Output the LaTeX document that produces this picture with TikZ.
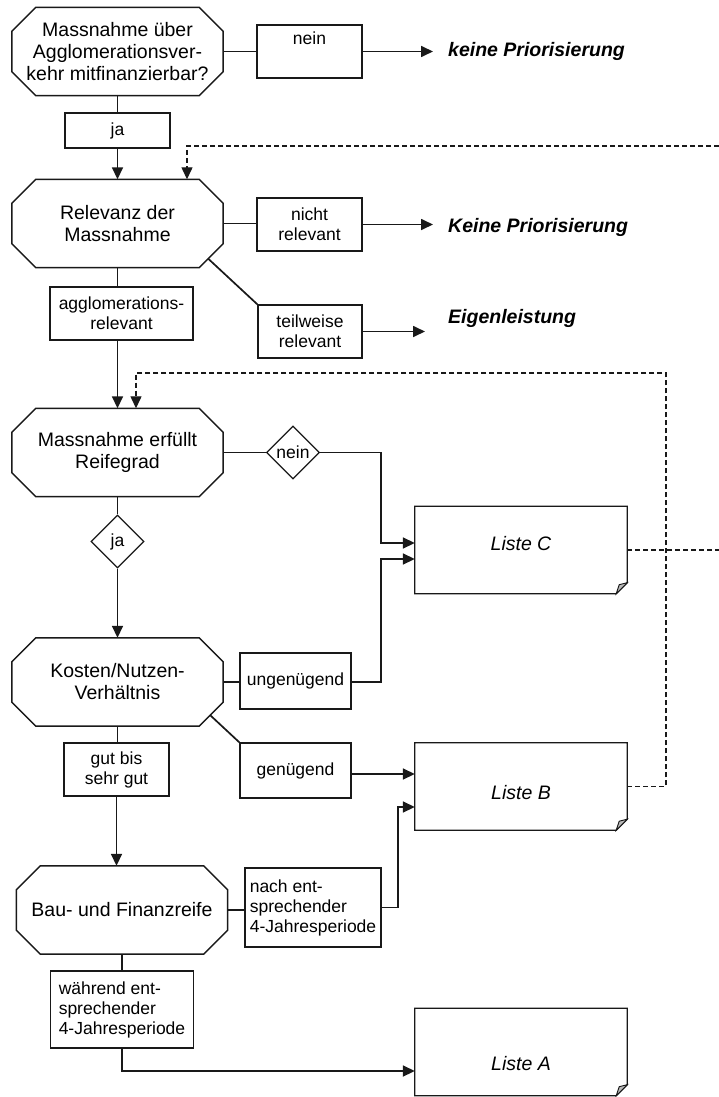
\documentclass[tikz,border=0pt]{standalone}
\usepackage{fontspec}
\setmainfont{Liberation Sans}
\usetikzlibrary{arrows.meta,calc,shapes.geometric}
\newcommand\octfont{\fontsize{19.5}{22}\selectfont}
\newcommand\lblfont{\fontsize{17.5}{20}\selectfont}
\newcommand\outfont{\fontsize{19.5}{22}\selectfont\bfseries\itshape}
\newcommand\docfont{\fontsize{19.5}{22}\selectfont\itshape}
\newcommand\octa[1]{%
  \draw[octline] ([xshift=24pt]#1.north west) -- ([xshift=-24pt]#1.north east) -- ([yshift=-24pt]#1.north east) -- ([yshift=24pt]#1.south east) -- ([xshift=-24pt]#1.south east) -- ([xshift=24pt]#1.south west) -- ([yshift=24pt]#1.south west) -- ([yshift=-24pt]#1.north west) -- cycle;}
\newcommand\docshape[1]{%
  \draw[boxline] (#1.north west) -- (#1.north east) -- ([yshift=11pt]#1.south east) -- ([xshift=-11pt]#1.south east) -- (#1.south west) -- cycle;
  \filldraw[boxline, line width=0.9pt, fill=gray!55] ([yshift=11pt]#1.south east) -- ([xshift=-11pt]#1.south east) -- ([xshift=-8pt,yshift=9pt]#1.south east) -- cycle;}
\begin{document}
\begin{tikzpicture}[x=1pt,y=-1pt,
  conn/.style={line width=1.7pt, draw=black!90},
  arr/.style={line width=1.7pt, draw=black!90, -{Triangle[length=12pt,width=11pt]}},
  dsh/.style={line width=1.3pt, dash pattern=on 5pt off 3pt},
  octline/.style={line width=1.5pt, draw=black!90},
  boxline/.style={line width=1.3pt, draw=black!90},
  oct/.style={minimum width=211pt, minimum height=88pt, inner sep=0pt, align=center, font=\octfont},
  lbl/.style={draw=black!90, line width=1.2pt, inner sep=0pt, align=center, font=\lblfont},
  dia/.style={diamond, draw=black!90, line width=1.2pt, inner sep=0pt, minimum width=53pt, minimum height=53pt, font=\lblfont},
  doc/.style={minimum width=212pt, minimum height=87pt, inner sep=0pt, font=\docfont},
  restext/.style={inner sep=0pt, anchor=west, font=\outfont},
]
\useasboundingbox[fill=white] (0,0) rectangle (719,1097);

% decision octagons
\node[oct] (Q1) at (117.5,51.5) {Massnahme über\\Agglomerationsver-\\kehr mitfinanzierbar?};
\node[oct] (Q2) at (117.5,223.5) {Relevanz der\\Massnahme};
\node[oct] (Q3) at (117.5,452.5) {Massnahme erfüllt\\Reifegrad};
\node[oct] (Q4) at (117.5,682) {Kosten/Nutzen-\\Verhältnis};
\node[oct] (Q5) at (122,910) {Bau- und Finanzreife};
\octa{Q1}\octa{Q2}\octa{Q3}\octa{Q4}\octa{Q5}

% label boxes
\node[lbl, minimum width=105pt, minimum height=53pt] (nein) at (309.5,51.5) {nein\\\strut};
\node[lbl, minimum width=105pt, minimum height=35pt] (ja) at (117.5,130.5) {ja};
\node[lbl, minimum width=105pt, minimum height=53pt] (nicht) at (309.5,224.5) {nicht\\relevant};
\node[lbl, minimum width=104pt, minimum height=53pt] (teil) at (310,331.5) {teilweise\\relevant};
\node[lbl, minimum width=143pt, minimum height=53pt] (aggl) at (121.5,313.5) {agglomerations-\\relevant};
\node[dia] (dnein) at (293,452.5) {nein};
\node[dia] (dja) at (117.5,541.5) {ja};
\node[lbl, minimum width=111pt, minimum height=56pt] (ungen) at (295.5,681) {ungenügend};
\node[lbl, minimum width=111pt, minimum height=55pt] (gen) at (295.5,770.5) {genügend};
\node[lbl, minimum width=105pt, minimum height=53pt] (gut) at (116.5,769.5) {gut bis\\sehr gut};
\node[lbl, align=left, minimum width=136pt, minimum height=79pt] (nach) at (313,907.5) {nach ent-\\sprechender\\4-Jahresperiode};
\node[lbl, align=left, minimum width=143pt, minimum height=77pt] (waehr) at (122,1009.5) {während ent-\\sprechender\\4-Jahresperiode};

% result texts
\node[restext] (kp1) at (448,51) {keine Priorisierung};
\node[restext] (kp2) at (448,227) {Keine Priorisierung};
\node[restext] (eig) at (448,318) {Eigenleistung};

% lists
\node[doc, text height=14pt, text depth=14pt] (LC) at (521,550) {Liste C};
\node[doc, text height=25pt, text depth=0pt] (LB) at (521,786.5) {Liste B};
\node[doc, text height=36pt, text depth=0pt] (LA) at (521,1052) {Liste A};
\docshape{LC}\docshape{LB}\docshape{LA}

% connectors
\draw[conn] (Q1.east) -- (nein.west);
\draw[arr] (nein.east) -- ($(kp1.west |- nein.east)+(-15,0)$);
\draw[conn] (Q1.south) -- (ja.north);
\draw[arr] (ja.south) -- (Q2.north);

\draw[conn] (Q2.east) -- (nicht.west |- Q2.east);
\draw[arr] (nicht.east) -- ($(kp2.west |- nicht.east)+(-15,0)$);
\draw[conn] ($(Q2.south east)+(-15,-9)$) -- (teil.north west);
\draw[arr] (teil.east) -- ($(eig.west |- teil.east)+(-23,0)$);
\draw[conn] (Q2.south) -- (Q2.south |- aggl.north);
\draw[arr] (Q3.north |- aggl.south) -- (Q3.north);

\draw[conn] (Q3.east) -- (dnein.west);
\draw[arr] (dnein.east) -| ($(LC.west)+(-34,-7)$) -- ($(LC.west)+(0,-7)$);
\draw[conn] (Q3.south) -- (dja.north);
\draw[arr] (dja.south) -- (Q4.north);

\draw[conn] (Q4.east) -- (ungen.west |- Q4.east);
\draw[arr] (ungen.east |- Q4.east) -| ($(LC.west)+(-34,9)$) -- ($(LC.west)+(0,9)$);
\draw[conn] ($(Q4.south east)+(-13,-11)$) -- (gen.north west);
\draw[arr] ($(gen.east)+(0,3.5)$) -- ($(LB.west)+(0,-12.5)$);
\draw[conn] (Q4.south) -- (Q4.south |- gut.north);
\draw[arr] (gut.south) -- (gut.south |- Q5.north);

\draw[conn] (Q5.east) -- (nach.west |- Q5.east);
\draw[arr] (nach.east) -| ($(LB.west)+(-17,20.5)$) -- ($(LB.west)+(0,20.5)$);
\draw[conn] (Q5.south) -- (waehr.north);
\draw[arr] (waehr.south) |- ($(LA.west)+(0,19)$);

% dashed feedback lines
\coordinate (inR) at (719,146);
\draw[arr,dsh] (inR) -| ($(Q2.north)+(69.5,0)$);
\coordinate (dcorner) at (666,373);
\draw[arr,dsh] (LB.east) -| (dcorner) -| ($(Q3.north)+(18.5,0)$);
\coordinate (outR) at (719,550);
\draw[conn,dsh] (LC.east) -- (outR);
\end{tikzpicture}
\end{document}
